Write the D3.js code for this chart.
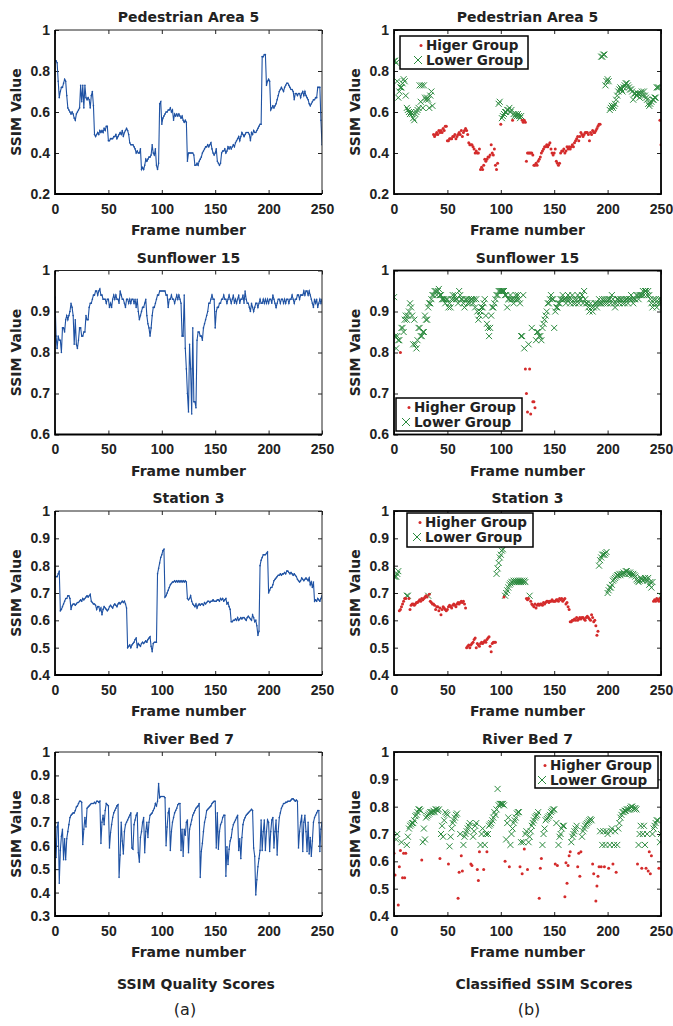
<!DOCTYPE html>
<html>
<head>
<meta charset="utf-8">
<script src="https://cdn.jsdelivr.net/npm/d3@7"></script>
<style>
  body { margin: 0; background: #fff; }
  svg { display: block; }
</style>
</head>
<body>
<div id="chart"></div>
<script>
// ---- data (one value per frame 0..250) ----
const titles = ["Pedestrian Area 5", "Sunflower 15", "Station 3", "River Bed 7"];
const xTicks = [0, 50, 100, 150, 200, 250];
const yDomainsLeft = [[0.2, 1], [0.6, 1], [0.4, 1], [0.3, 1]];
const yDomainsRight = [[0.2, 1], [0.6, 1], [0.4, 1], [0.4, 1]];
const yTicksLeft = [
  [0.2, 0.4, 0.6, 0.8, 1],
  [0.6, 0.7, 0.8, 0.9, 1],
  [0.4, 0.5, 0.6, 0.7, 0.8, 0.9, 1],
  [0.3, 0.4, 0.5, 0.6, 0.7, 0.8, 0.9, 1]
];
const yTicksRight = [
  [0.2, 0.4, 0.6, 0.8, 1],
  [0.6, 0.7, 0.8, 0.9, 1],
  [0.4, 0.5, 0.6, 0.7, 0.8, 0.9, 1],
  [0.4, 0.5, 0.6, 0.7, 0.8, 0.9, 1]
];
const higherLabels = ["Higer Group", "Higher Group", "Higher Group", "Higher Group"];
const lowerLabel = "Lower Group";
const captions = ["SSIM Quality Scores", "Classified SSIM Scores"];
const panelTags = ["(a)", "(b)"];

const pedestrian = [
  0.85,0.85,0.84,0.75,0.67,0.70,0.72,0.72,0.74,0.76,
  0.75,0.68,0.62,0.61,0.60,0.59,0.60,0.59,0.57,0.56,
  0.59,0.60,0.61,0.62,0.73,0.65,0.73,0.62,0.73,0.67,
  0.66,0.67,0.66,0.62,0.68,0.70,0.63,0.49,0.48,0.49,
  0.50,0.49,0.51,0.50,0.51,0.50,0.52,0.51,0.53,0.53,
  0.46,0.46,0.47,0.47,0.47,0.48,0.48,0.49,0.47,0.48,
  0.49,0.50,0.49,0.51,0.48,0.50,0.51,0.52,0.51,0.49,
  0.45,0.44,0.44,0.44,0.43,0.42,0.40,0.41,0.40,0.40,
  0.42,0.32,0.33,0.32,0.34,0.37,0.36,0.37,0.38,0.38,
  0.39,0.44,0.40,0.39,0.42,0.34,0.32,0.35,0.64,0.65,
  0.54,0.57,0.58,0.59,0.60,0.60,0.61,0.61,0.62,0.60,
  0.61,0.56,0.59,0.58,0.59,0.58,0.59,0.58,0.57,0.58,
  0.56,0.55,0.56,0.55,0.36,0.40,0.40,0.40,0.40,0.40,
  0.39,0.34,0.34,0.35,0.34,0.36,0.37,0.38,0.40,0.41,
  0.42,0.43,0.43,0.44,0.43,0.44,0.45,0.42,0.40,0.39,
  0.40,0.42,0.36,0.35,0.34,0.35,0.40,0.41,0.41,0.42,
  0.40,0.41,0.43,0.42,0.43,0.42,0.43,0.44,0.43,0.45,
  0.46,0.47,0.48,0.46,0.48,0.50,0.49,0.48,0.49,0.50,
  0.50,0.50,0.49,0.46,0.50,0.49,0.51,0.50,0.50,0.51,
  0.52,0.53,0.54,0.54,0.87,0.87,0.88,0.88,0.73,0.75,
  0.76,0.75,0.61,0.62,0.63,0.62,0.63,0.64,0.66,0.68,
  0.70,0.71,0.72,0.71,0.70,0.72,0.73,0.74,0.74,0.73,
  0.72,0.71,0.71,0.70,0.66,0.69,0.69,0.68,0.69,0.69,
  0.67,0.69,0.70,0.68,0.70,0.68,0.67,0.66,0.64,0.63,
  0.64,0.65,0.66,0.66,0.67,0.67,0.72,0.72,0.72,0.56,
  0.44
];
const sunflower = [
  0.935,0.84,0.81,0.84,0.83,0.83,0.80,0.86,0.86,0.85,
  0.88,0.89,0.88,0.89,0.90,0.92,0.91,0.89,0.82,0.88,
  0.82,0.81,0.83,0.86,0.86,0.84,0.84,0.85,0.85,0.89,
  0.88,0.88,0.91,0.92,0.92,0.93,0.94,0.94,0.95,0.95,
  0.94,0.95,0.955,0.94,0.94,0.93,0.93,0.93,0.92,0.93,
  0.93,0.91,0.92,0.91,0.93,0.94,0.93,0.94,0.93,0.93,
  0.92,0.95,0.94,0.93,0.93,0.92,0.91,0.93,0.93,0.92,
  0.93,0.92,0.93,0.93,0.92,0.93,0.91,0.93,0.90,0.88,
  0.89,0.90,0.91,0.91,0.92,0.93,0.89,0.87,0.86,0.84,
  0.86,0.89,0.91,0.91,0.92,0.93,0.94,0.94,0.95,0.95,
  0.95,0.95,0.95,0.95,0.94,0.94,0.91,0.93,0.93,0.94,
  0.93,0.93,0.92,0.93,0.94,0.93,0.94,0.93,0.92,0.84,
  0.84,0.94,0.81,0.76,0.70,0.655,0.82,0.76,0.65,0.86,
  0.68,0.68,0.665,0.83,0.85,0.85,0.84,0.84,0.83,0.86,
  0.87,0.88,0.89,0.90,0.92,0.92,0.93,0.94,0.93,0.93,
  0.86,0.90,0.91,0.91,0.92,0.92,0.93,0.93,0.94,0.93,
  0.93,0.92,0.93,0.94,0.93,0.92,0.93,0.94,0.92,0.93,
  0.92,0.93,0.94,0.92,0.93,0.93,0.94,0.92,0.95,0.93,
  0.92,0.92,0.91,0.90,0.92,0.91,0.90,0.91,0.92,0.92,
  0.91,0.92,0.93,0.92,0.92,0.93,0.92,0.93,0.92,0.93,
  0.92,0.93,0.93,0.92,0.94,0.93,0.92,0.91,0.92,0.93,
  0.93,0.92,0.93,0.93,0.92,0.93,0.92,0.93,0.93,0.92,
  0.93,0.93,0.94,0.93,0.92,0.93,0.93,0.94,0.94,0.93,
  0.94,0.94,0.94,0.95,0.94,0.95,0.95,0.94,0.95,0.94,
  0.93,0.92,0.91,0.93,0.92,0.93,0.91,0.92,0.93,0.92,
  0.93
];
const station = [
  0.76,0.76,0.76,0.77,0.78,0.635,0.64,0.65,0.66,0.67,
  0.68,0.68,0.69,0.69,0.68,0.64,0.655,0.66,0.66,0.655,
  0.66,0.665,0.665,0.67,0.675,0.67,0.68,0.675,0.68,0.685,
  0.69,0.685,0.69,0.695,0.67,0.665,0.66,0.66,0.655,0.64,
  0.65,0.65,0.635,0.645,0.62,0.64,0.65,0.645,0.64,0.635,
  0.64,0.65,0.655,0.65,0.645,0.655,0.66,0.655,0.65,0.66,
  0.665,0.66,0.665,0.67,0.665,0.67,0.66,0.645,0.50,0.505,
  0.51,0.50,0.51,0.515,0.52,0.53,0.535,0.50,0.515,0.51,
  0.505,0.515,0.52,0.515,0.52,0.525,0.52,0.53,0.535,0.54,
  0.505,0.485,0.515,0.52,0.52,0.52,0.77,0.79,0.81,0.83,
  0.84,0.855,0.86,0.685,0.69,0.70,0.71,0.72,0.73,0.735,
  0.74,0.74,0.745,0.74,0.745,0.74,0.745,0.74,0.745,0.74,
  0.745,0.74,0.745,0.74,0.68,0.675,0.68,0.69,0.67,0.66,
  0.655,0.65,0.66,0.645,0.655,0.66,0.655,0.66,0.66,0.655,
  0.665,0.66,0.665,0.67,0.67,0.665,0.67,0.67,0.675,0.67,
  0.67,0.67,0.675,0.675,0.67,0.68,0.675,0.68,0.67,0.675,
  0.68,0.66,0.665,0.65,0.64,0.595,0.595,0.60,0.60,0.605,
  0.60,0.61,0.60,0.605,0.61,0.605,0.61,0.61,0.605,0.60,
  0.61,0.615,0.61,0.605,0.60,0.62,0.61,0.595,0.60,0.58,
  0.545,0.56,0.80,0.82,0.83,0.84,0.84,0.84,0.845,0.85,
  0.70,0.71,0.72,0.72,0.73,0.745,0.75,0.755,0.76,0.765,
  0.765,0.77,0.765,0.77,0.77,0.775,0.77,0.78,0.78,0.775,
  0.77,0.775,0.77,0.765,0.77,0.765,0.76,0.75,0.745,0.74,
  0.745,0.755,0.75,0.745,0.75,0.755,0.75,0.745,0.755,0.73,
  0.74,0.72,0.74,0.67,0.675,0.67,0.68,0.675,0.67,0.68,
  0.69
];
const riverBed = [
  0.63,0.55,0.68,0.70,0.44,0.58,0.64,0.67,0.54,0.63,
  0.54,0.63,0.66,0.69,0.72,0.73,0.735,0.74,0.74,0.75,
  0.765,0.77,0.78,0.79,0.79,0.785,0.605,0.67,0.72,0.68,
  0.76,0.765,0.77,0.775,0.78,0.78,0.78,0.785,0.78,0.79,
  0.79,0.785,0.79,0.61,0.70,0.73,0.69,0.75,0.78,0.775,
  0.77,0.59,0.655,0.69,0.72,0.74,0.75,0.76,0.77,0.775,
  0.465,0.56,0.70,0.62,0.565,0.66,0.69,0.70,0.71,0.72,
  0.73,0.74,0.59,0.585,0.69,0.71,0.73,0.74,0.57,0.53,
  0.635,0.66,0.70,0.72,0.57,0.66,0.70,0.635,0.70,0.73,
  0.735,0.74,0.75,0.76,0.78,0.77,0.79,0.865,0.805,0.81,
  0.81,0.81,0.81,0.805,0.60,0.68,0.74,0.76,0.58,0.66,
  0.70,0.72,0.74,0.75,0.76,0.775,0.78,0.78,0.58,0.67,
  0.555,0.67,0.645,0.70,0.71,0.57,0.67,0.69,0.71,0.73,
  0.74,0.75,0.76,0.765,0.77,0.78,0.465,0.575,0.61,0.66,
  0.70,0.72,0.75,0.755,0.76,0.765,0.77,0.78,0.785,0.79,
  0.79,0.59,0.74,0.585,0.66,0.69,0.70,0.72,0.73,0.73,
  0.47,0.595,0.52,0.585,0.62,0.635,0.67,0.69,0.70,0.71,
  0.72,0.73,0.58,0.63,0.545,0.635,0.69,0.71,0.72,0.73,
  0.735,0.74,0.745,0.75,0.755,0.75,0.59,0.555,0.39,0.455,
  0.51,0.545,0.58,0.71,0.58,0.66,0.71,0.58,0.66,0.71,
  0.70,0.575,0.66,0.71,0.72,0.59,0.66,0.71,0.56,0.66,
  0.72,0.74,0.76,0.77,0.78,0.78,0.785,0.785,0.79,0.79,
  0.79,0.795,0.80,0.80,0.795,0.79,0.795,0.79,0.59,0.66,
  0.70,0.73,0.575,0.70,0.73,0.66,0.575,0.70,0.565,0.635,
  0.555,0.62,0.70,0.72,0.73,0.74,0.75,0.75,0.575,0.67,
  0.70
];

// frame ranges [first, last] that fall in the "Higher Group"
const pedestrianHigher = [[37,97],[100,100],[111,111],[120,193],[249,250]];
const sunflowerHigher = [[6,6],[123,125],[127,128],[130,132]];
const stationHigher = [[5,11],[14,31],[33,95],[103,103],[124,126],[128,191],[243,249]];
const riverBedHigher = [[0,1],[4,6],[8,11],[26,26],[43,43],[51,51],[60,61],[63,64],[72,73],
  [78,80],[84,84],[87,87],[104,104],[108,108],[118,118],[120,120],[122,122],[125,125],
  [136,138],[151,151],[153,153],[160,165],[172,175],[186,192],[194,194],[197,197],
  [201,201],[205,205],[208,208],[228,228],[232,232],[236,236],[238,241],[248,248]];

const seriesList = [pedestrian, sunflower, station, riverBed];
const higherList = [pedestrianHigher, sunflowerHigher, stationHigher, riverBedHigher];

// ---- layout ----
const width = 673, height = 1026;
const colX = [[55, 322], [394, 661]];
const rowTop = [30, 270.5, 511, 752];
const plotH = 164;
const legendBoxes = [
  {x: 400, y: 36, w: 128, h: 33, tx: 26},
  {x: 396, y: 398, w: 126, h: 33, tx: 18},
  {x: 407, y: 513, w: 126, h: 34, tx: 18},
  {x: 535, y: 756, w: 123, h: 32, tx: 15}
];
const blue = "#1f52a3", red = "#d42b2b", green = "#2b8a3e";
const labelFont = "'DejaVu Sans', Verdana, sans-serif";
const tickFont = "'Liberation Sans', Arial, sans-serif";

const svg = d3.select("#chart").append("svg")
  .attr("width", width).attr("height", height)
  .style("background", "#fff");

const fmt = d => d === 1 ? "1" : d3.format(".1f")(d);

function isHigher(ranges, i) {
  return ranges.some(r => i >= r[0] && i <= r[1]);
}

function drawPanel(row, col) {
  const [x0, x1] = colX[col];
  const top = rowTop[row], bottom = top + plotH;
  const data = seriesList[row];
  const domain = col === 0 ? yDomainsLeft[row] : yDomainsRight[row];
  const ticks = col === 0 ? yTicksLeft[row] : yTicksRight[row];

  const x = d3.scaleLinear().domain([0, 250]).range([x0, x1]);
  const y = d3.scaleLinear().domain(domain).range([bottom, top]);
  const g = svg.append("g");

  const clipId = `clip-${row}-${col}`;
  svg.append("clipPath").attr("id", clipId)
    .append("rect").attr("x", x0).attr("y", top).attr("width", x1 - x0).attr("height", plotH);

  // axes with inward ticks
  const axL = g.append("g").attr("transform", `translate(${x0},0)`)
    .call(d3.axisLeft(y).tickValues(ticks).tickFormat(fmt).tickSize(-4).tickPadding(5));
  const axR = g.append("g").attr("transform", `translate(${x1},0)`)
    .call(d3.axisRight(y).tickValues(ticks).tickFormat("").tickSize(-4));
  const axB = g.append("g").attr("transform", `translate(0,${bottom})`)
    .call(d3.axisBottom(x).tickValues(xTicks).tickSize(-4).tickPadding(10));
  const axT = g.append("g").attr("transform", `translate(0,${top})`)
    .call(d3.axisTop(x).tickValues(xTicks).tickFormat("").tickSize(-4));
  [axL, axR, axB, axT].forEach(a => {
    a.select(".domain").remove();
    a.selectAll("line").attr("stroke", "#222").attr("stroke-width", 1);
    a.selectAll("text")
      .attr("fill", "#222")
      .style("font-family", tickFont)
      .style("font-weight", "bold")
      .style("font-size", "14px");
  });

  const plot = g.append("g").attr("clip-path", `url(#${clipId})`);

  if (col === 0) {
    const line = d3.line().x((d, i) => x(i)).y(d => y(d));
    plot.append("path").datum(data)
      .attr("d", line)
      .attr("fill", "none")
      .attr("stroke", blue)
      .attr("stroke-width", 1.1);
    plot.selectAll("circle.v").data(data).join("circle")
      .attr("class", "v")
      .attr("cx", (d, i) => x(i)).attr("cy", d => y(d))
      .attr("r", 0.8).attr("fill", blue);
  } else {
    const pts = data.map((v, i) => ({i, v, hi: isHigher(higherList[row], i)}));
    const s = 3;
    plot.selectAll("path.lo").data(pts.filter(p => !p.hi)).join("path")
      .attr("class", "lo")
      .attr("d", p => {
        const cx = x(p.i), cy = y(p.v);
        return `M${cx - s},${cy - s}L${cx + s},${cy + s}M${cx - s},${cy + s}L${cx + s},${cy - s}`;
      })
      .attr("stroke", green).attr("stroke-width", 1).attr("fill", "none");
    plot.selectAll("circle.hi").data(pts.filter(p => p.hi)).join("circle")
      .attr("class", "hi")
      .attr("cx", p => x(p.i)).attr("cy", p => y(p.v))
      .attr("r", 1.5).attr("fill", red);
  }

  // frame
  if (col === 0) {
    g.append("line").attr("x1", x0).attr("x2", x1).attr("y1", top).attr("y2", top)
      .attr("stroke", "#222").attr("stroke-width", 1);
    g.append("line").attr("x1", x1).attr("x2", x1).attr("y1", top).attr("y2", bottom)
      .attr("stroke", "#222").attr("stroke-width", 1);
    g.append("path").attr("d", `M${x0},${top}V${bottom}H${x1}`)
      .attr("fill", "none").attr("stroke", "#000").attr("stroke-width", 1.8);
  } else {
    g.append("rect").attr("x", x0).attr("y", top).attr("width", x1 - x0).attr("height", plotH)
      .attr("fill", "none").attr("stroke", "#000").attr("stroke-width", 1.8);
  }

  // title and labels
  const txt = (sel, size) => sel.attr("fill", "#222")
    .style("font-family", labelFont).style("font-weight", "bold").style("font-size", (size || 14) + "px");
  g.append("text").attr("x", (x0 + x1) / 2).attr("y", top - 8)
    .attr("text-anchor", "middle").text(titles[row]).call(txt);
  g.append("text").attr("x", (x0 + x1) / 2).attr("y", bottom + 41)
    .attr("text-anchor", "middle").text("Frame number").call(txt);
  g.append("text")
    .attr("transform", `translate(${x0 - 34},${(top + bottom) / 2}) rotate(-90)`)
    .attr("text-anchor", "middle").text("SSIM Value").call(txt);

  // legend
  if (col === 1) {
    const lb = legendBoxes[row];
    const lg = g.append("g");
    lg.append("rect").attr("x", lb.x).attr("y", lb.y).attr("width", lb.w).attr("height", lb.h)
      .attr("fill", "#fff").attr("stroke", "#000").attr("stroke-width", 1.5);
    const r1 = lb.y + 13.5, r2 = lb.y + 29;
    lg.append("circle").attr("cx", lb.x + lb.tx - 5).attr("cy", r1 - 4).attr("r", 1.5).attr("fill", red);
    const mx = lb.x + lb.tx - 8, my = r2 - 5, s = 4;
    lg.append("path")
      .attr("d", `M${mx - s},${my - s}L${mx + s},${my + s}M${mx - s},${my + s}L${mx + s},${my - s}`)
      .attr("stroke", green).attr("stroke-width", 1).attr("fill", "none");
    lg.append("text").attr("x", lb.x + lb.tx).attr("y", r1).text(higherLabels[row]).call(txt, 13.5);
    lg.append("text").attr("x", lb.x + lb.tx).attr("y", r2).text(lowerLabel).call(txt, 13.5);
  }
}

for (let r = 0; r < 4; r++) {
  drawPanel(r, 0);
  drawPanel(r, 1);
}

// bottom captions
[0, 1].forEach(c => {
  const cx = c === 0 ? 196 : 544;
  svg.append("text").attr("x", cx).attr("y", 989).attr("text-anchor", "middle")
    .text(captions[c]).attr("fill", "#222")
    .style("font-family", labelFont).style("font-weight", "bold").style("font-size", "14px");
  svg.append("text").attr("x", c === 0 ? 185 : 529).attr("y", 1015).attr("text-anchor", "middle")
    .text(panelTags[c]).attr("fill", "#222")
    .style("font-family", labelFont).style("font-size", "16px");
});
</script>
</body>
</html>
